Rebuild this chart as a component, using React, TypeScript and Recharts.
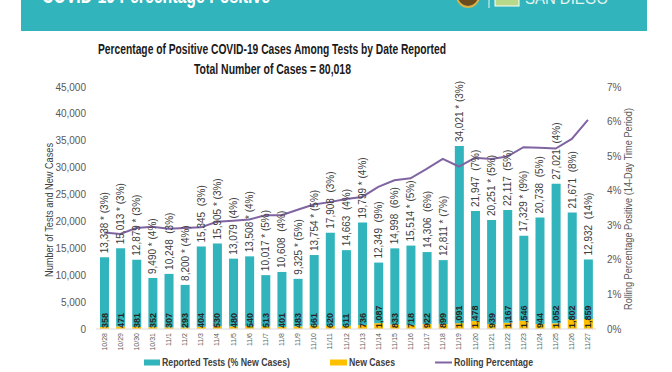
import React from 'react';
import { ComposedChart, Bar, Line, XAxis, YAxis, LabelList } from 'recharts';

const dates = ['10/28','10/29','10/30','10/31','11/1','11/2','11/3','11/4','11/5','11/6','11/7','11/8','11/9','11/10','11/11','11/12','11/13','11/14','11/15','11/16','11/17','11/18','11/19','11/20','11/21','11/22','11/23','11/24','11/25','11/26','11/27'];
const reportedTests = [13338,15013,12879,9490,10248,8200,15345,15905,13079,13508,10017,10608,9325,13754,17908,14663,19799,12349,14998,15514,14306,12811,34021,21947,20251,22117,17329,20738,27021,21671,12932];
const newCases = [358,471,381,352,307,293,404,530,480,540,513,401,483,661,620,611,736,1087,833,718,922,899,1091,1478,939,1167,1546,944,1052,1802,1859];
const pctNewCases = [3,3,3,4,3,4,3,3,4,4,5,4,5,5,3,4,4,9,6,5,6,7,3,7,5,5,9,5,4,8,14];
const starred = [1,1,1,1,0,1,0,1,0,1,1,0,1,1,0,0,1,0,0,1,0,1,1,0,1,0,1,0,0,0,0];
const rollingPct = [2.79,2.75,2.92,2.96,2.90,2.92,2.94,3.10,3.13,3.17,3.29,3.29,3.45,3.60,3.67,3.76,3.82,4.11,4.30,4.36,4.63,4.92,4.70,4.95,4.92,4.99,5.26,5.24,5.22,5.50,6.05];
const leftTicks = [0,5000,10000,15000,20000,25000,30000,35000,40000,45000];
const rightTicks = [0,1,2,3,4,5,6,7];

const TEAL = '#31b4bc';
const ORANGE = '#ffc000';
const PURPLE = '#8064a2';
const FONT = '"Liberation Sans", Arial, sans-serif';

const rows = dates.map((d, i) => ({
  date: d,
  cases: newCases[i],
  rest: reportedTests[i] - newCases[i],
  rolling: rollingPct[i],
}));

const fmt = (n: number) => n.toLocaleString('en-US');

const XTick = (props: any) => {
  const { x, payload } = props;
  const y = 333;
  return (
    <text x={x} y={y} transform={`rotate(-90, ${x}, ${y})`} textAnchor="end" dominantBaseline="central"
      fontSize={7} fill="#595959" fontFamily={FONT}>{payload.value}</text>
  );
};

const TestsLabel = (props: any) => {
  const { x, y, width, index } = props;
  const cx = x + width / 2;
  const ty = y - 4;
  const txt = `${fmt(reportedTests[index])}${starred[index] ? ' * ' : '  '}(${pctNewCases[index]}%)`;
  return (
    <text x={cx} y={ty} transform={`rotate(-90, ${cx}, ${ty})`} textAnchor="start" dominantBaseline="central"
      fontSize={10} fill="#404040" fontFamily={FONT} style={{ whiteSpace: 'pre' }}>{txt}</text>
  );
};

const CasesLabel = (props: any) => {
  const { x, y, width, height, index } = props;
  const cx = x + width / 2;
  const ty = y + height - 1;
  return (
    <text x={cx} y={ty} transform={`rotate(-90, ${cx}, ${ty})`} textAnchor="start" dominantBaseline="central"
      fontSize={9} fontWeight="bold" fill="#262626" fontFamily={FONT}>{fmt(newCases[index])}</text>
  );
};

export default function App() {
  return (
    <div style={{ position: 'absolute', left: 0, top: 0, width: 672, height: 372, background: '#fff', overflow: 'hidden' }}>
      <ComposedChart width={672} height={372} data={rows} margin={{ top: 87, right: 36, bottom: 0, left: 36 }} barSize={9}>
        <XAxis dataKey="date" interval={0} height={43} tickLine={false} axisLine={{ stroke: '#d9d9d9' }} tick={<XTick />} />
        <YAxis yAxisId="left" width={60} domain={[0, 45000]} ticks={leftTicks} tickFormatter={fmt}
          axisLine={false} tickLine={false} tickMargin={4}
          tick={{ fontSize: 10, fill: '#595959', fontFamily: FONT }} />
        <YAxis yAxisId="right" orientation="right" width={40} domain={[0, 7]} ticks={rightTicks}
          tickFormatter={(v: number) => `${v}%`} axisLine={false} tickLine={false} tickMargin={5}
          tick={{ fontSize: 10, fill: '#595959', fontFamily: FONT, textAnchor: 'start' }} />
        <Bar yAxisId="left" dataKey="cases" stackId="a" fill={ORANGE} isAnimationActive={false}>
          <LabelList dataKey="cases" content={<CasesLabel />} />
        </Bar>
        <Bar yAxisId="left" dataKey="rest" stackId="a" fill={TEAL} isAnimationActive={false}>
          <LabelList dataKey="rest" content={<TestsLabel />} />
        </Bar>
        <Line yAxisId="right" dataKey="rolling" type="linear" stroke={PURPLE} strokeWidth={2} dot={false} isAnimationActive={false} />
      </ComposedChart>
      <svg width={672} height={372} style={{ position: 'absolute', left: 0, top: 0, pointerEvents: 'none' }}>
        <rect x={21} y={0} width={626} height={31} fill={TEAL} />
        <text x={42} y={3} fontSize={22} fontWeight="bold" fill="#ffffff" fontFamily={FONT} textLength={228} lengthAdjust="spacingAndGlyphs">COVID-19 Percentage Positive</text>
        <circle cx={468} cy={-4} r={11} fill="#6b4a1e" stroke="#d8b24a" strokeWidth={2} />
        <line x1={489} y1={0} x2={489} y2={8} stroke="#e8f6f6" strokeWidth={1} />
        <rect x={495} y={-4} width={24} height={10} fill="#b8d98a" stroke="#ffffff" strokeWidth={1} />
        <text x={525} y={4} fontSize={16} fill="#e6f4f0" fontFamily={FONT} textLength={83} lengthAdjust="spacingAndGlyphs">SAN DIEGO</text>

        <text x={272} y={54} textAnchor="middle" fontSize={14} fontWeight="bold" fill="#1a1a1a" fontFamily={FONT} textLength={348} lengthAdjust="spacingAndGlyphs">Percentage of Positive COVID-19 Cases Among Tests by Date Reported</text>
        <text x={272.5} y={74} textAnchor="middle" fontSize={14} fontWeight="bold" fill="#1a1a1a" fontFamily={FONT} textLength={157} lengthAdjust="spacingAndGlyphs">Total Number of Cases = 80,018</text>

        <text x={49} y={210} transform="rotate(-90, 49, 210)" textAnchor="middle" dominantBaseline="central" fontSize={10} fill="#404040" fontFamily={FONT} textLength={134} lengthAdjust="spacingAndGlyphs">Number of Tests and New Cases</text>
        <text x={628} y={209} transform="rotate(-90, 628, 209)" textAnchor="middle" dominantBaseline="central" fontSize={10} fill="#595959" fontFamily={FONT} textLength={202} lengthAdjust="spacingAndGlyphs">Rolling Percentage Positive (14-Day Time Period)</text>

        <rect x={144} y={359.5} width={16} height={6} fill={TEAL} />
        <text x={162} y={362.7} dominantBaseline="central" fontSize={10} fontWeight="bold" fill="#404040" fontFamily={FONT} textLength={128} lengthAdjust="spacingAndGlyphs">Reported Tests (% New Cases)</text>
        <rect x={330} y={359.5} width={17} height={6} fill={ORANGE} />
        <text x={349} y={362.7} dominantBaseline="central" fontSize={10} fontWeight="bold" fill="#404040" fontFamily={FONT} textLength={46} lengthAdjust="spacingAndGlyphs">New Cases</text>
        <line x1={435} y1={362.5} x2={452} y2={362.5} stroke={PURPLE} strokeWidth={2} />
        <text x={454} y={362.7} dominantBaseline="central" fontSize={10} fontWeight="bold" fill="#404040" fontFamily={FONT} textLength={79} lengthAdjust="spacingAndGlyphs">Rolling Percentage</text>
      </svg>
    </div>
  );
}
